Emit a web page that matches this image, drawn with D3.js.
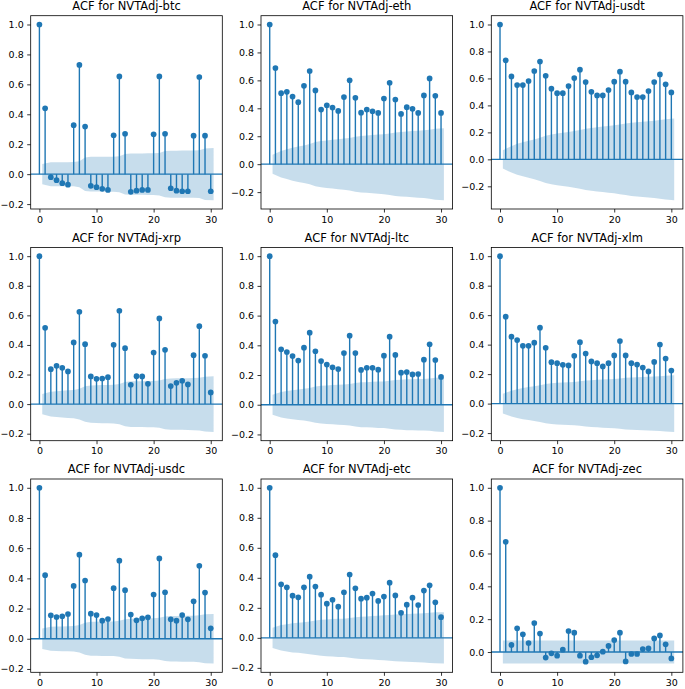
<!DOCTYPE html>
<html><head><meta charset="utf-8">
<script src="https://cdn.jsdelivr.net/npm/d3@7"></script>
<style>
body{margin:0;background:#fff}
svg{display:block}
text{font-family:"DejaVu Sans",sans-serif;fill:#000}
</style>
</head><body>
<svg id="chart" width="685" height="689"></svg>
<script>
// ---- data (lags 0..30; confidence half-widths for lags 1..30) ----
const seriesNames = ["btc","eth","usdt","xrp","ltc","xlm","usdc","etc","zec"];
const titlePrefix = "ACF for NVTAdj-";
const xTickValues = [0,10,20,30];
const yTickStep = 0.2;

const acfBtc = [1.0,0.44,-0.02,-0.04,-0.06,-0.07,0.327,0.73,0.318,-0.078,-0.087,-0.098,-0.105,0.26,0.653,0.27,-0.118,-0.11,-0.105,-0.105,0.266,0.653,0.27,-0.094,-0.11,-0.114,-0.114,0.257,0.649,0.257,-0.114];
const confBtc = [0.068,0.080,0.080,0.080,0.080,0.081,0.087,0.112,0.116,0.116,0.116,0.117,0.117,0.120,0.135,0.138,0.138,0.138,0.139,0.139,0.142,0.155,0.157,0.157,0.158,0.158,0.158,0.160,0.172,0.174];

const acfEth = [1.0,0.688,0.508,0.518,0.484,0.444,0.561,0.667,0.528,0.391,0.422,0.405,0.381,0.48,0.6,0.475,0.369,0.391,0.379,0.367,0.47,0.583,0.463,0.36,0.408,0.396,0.367,0.492,0.614,0.489,0.367];
const confEth = [0.068,0.095,0.107,0.118,0.127,0.134,0.144,0.158,0.166,0.170,0.175,0.179,0.183,0.188,0.197,0.202,0.205,0.209,0.212,0.215,0.220,0.227,0.231,0.234,0.237,0.240,0.243,0.247,0.254,0.258];

const acfUsdt = [1.0,0.734,0.615,0.551,0.551,0.581,0.655,0.725,0.62,0.524,0.491,0.491,0.543,0.603,0.665,0.573,0.501,0.474,0.474,0.514,0.576,0.65,0.576,0.496,0.462,0.462,0.506,0.573,0.63,0.556,0.496];
const confUsdt = [0.068,0.098,0.115,0.126,0.137,0.148,0.161,0.175,0.185,0.192,0.198,0.203,0.210,0.218,0.227,0.233,0.238,0.243,0.247,0.252,0.258,0.265,0.271,0.275,0.279,0.282,0.286,0.292,0.298,0.303];

const acfXrp = [1.0,0.516,0.236,0.259,0.245,0.221,0.417,0.624,0.405,0.187,0.171,0.173,0.182,0.401,0.631,0.378,0.131,0.189,0.187,0.137,0.349,0.579,0.367,0.122,0.144,0.158,0.133,0.331,0.527,0.327,0.079];
const confXrp = [0.068,0.084,0.087,0.091,0.094,0.096,0.104,0.120,0.126,0.128,0.129,0.130,0.131,0.136,0.149,0.154,0.154,0.155,0.156,0.157,0.160,0.170,0.173,0.174,0.174,0.175,0.176,0.178,0.185,0.188];

const acfLtc = [1.0,0.56,0.373,0.355,0.328,0.297,0.384,0.485,0.36,0.294,0.27,0.252,0.24,0.348,0.465,0.348,0.234,0.249,0.249,0.236,0.33,0.458,0.335,0.216,0.22,0.204,0.207,0.303,0.407,0.301,0.187];
const confLtc = [0.067,0.086,0.093,0.098,0.103,0.107,0.113,0.122,0.127,0.130,0.132,0.134,0.136,0.140,0.147,0.151,0.152,0.154,0.156,0.157,0.161,0.166,0.169,0.171,0.172,0.173,0.174,0.176,0.181,0.183];

const acfXlm = [1.0,0.59,0.454,0.431,0.392,0.392,0.413,0.515,0.379,0.281,0.274,0.263,0.259,0.324,0.417,0.34,0.286,0.274,0.252,0.274,0.327,0.424,0.327,0.274,0.265,0.245,0.218,0.283,0.401,0.306,0.224];
const confXlm = [0.067,0.087,0.097,0.106,0.112,0.118,0.124,0.133,0.138,0.141,0.143,0.145,0.147,0.151,0.156,0.159,0.161,0.163,0.165,0.167,0.170,0.175,0.177,0.179,0.181,0.182,0.184,0.186,0.189,0.192];

const acfUsdc = [1.0,0.421,0.155,0.144,0.149,0.164,0.35,0.557,0.386,0.166,0.157,0.12,0.131,0.335,0.517,0.322,0.16,0.122,0.135,0.142,0.293,0.532,0.308,0.129,0.12,0.157,0.129,0.248,0.483,0.306,0.069];
const confUsdc = [0.068,0.079,0.081,0.082,0.083,0.084,0.091,0.106,0.112,0.113,0.114,0.115,0.115,0.120,0.130,0.133,0.134,0.135,0.135,0.136,0.139,0.148,0.151,0.151,0.152,0.153,0.153,0.155,0.162,0.164];

const acfEtc = [1.0,0.551,0.357,0.337,0.281,0.27,0.337,0.408,0.342,0.288,0.228,0.254,0.208,0.304,0.422,0.33,0.261,0.268,0.295,0.246,0.275,0.368,0.283,0.167,0.221,0.268,0.219,0.315,0.35,0.237,0.138];
const confEtc = [0.067,0.085,0.091,0.097,0.100,0.104,0.109,0.115,0.120,0.123,0.125,0.127,0.128,0.132,0.138,0.141,0.143,0.145,0.148,0.150,0.152,0.156,0.158,0.159,0.161,0.163,0.164,0.167,0.170,0.171];

const acfZec = [1.0,0.671,0.043,0.144,0.108,0.055,0.176,0.112,-0.034,-0.008,-0.022,0.014,0.128,0.118,-0.022,-0.059,-0.032,-0.02,0.002,0.037,0.073,0.118,-0.057,-0.012,-0.012,0.018,0.022,0.083,0.101,0.047,-0.039];
const confZec = [0.070,0.070,0.070,0.070,0.070,0.070,0.070,0.070,0.070,0.070,0.070,0.070,0.070,0.070,0.070,0.070,0.070,0.070,0.070,0.070,0.070,0.070,0.070,0.070,0.070,0.070,0.070,0.070,0.070,0.070];

const acfList = [acfBtc,acfEth,acfUsdt,acfXrp,acfLtc,acfXlm,acfUsdc,acfEtc,acfZec];
const confList = [confBtc,confEth,confUsdt,confXrp,confLtc,confXlm,confUsdc,confEtc,confZec];

// ---- layout ----
const colLeft = [30.7, 261.0, 491.3];
const rowTop = [15.7, 247.4, 479.0];
const W = 191.6, H = 193.3;
const C0 = "#1f77b4";
const tickFont = 9.5, titleFont = 11.5;

const svg = d3.select("#chart");

seriesNames.forEach((name, i) => {
  const acf = acfList[i], conf = confList[i];
  const lags = acf.map((_, k) => k);
  const bandPts = conf.map((c, j) => {
    let lx = j + 1;
    if (j === 0) lx -= 0.5;
    if (j === conf.length - 1) lx += 0.5;
    return {x: lx, c: c};
  });

  // matplotlib-like autoscale with 5% margins
  const xMin = 0, xMax = d3.max(bandPts, d => d.x);
  const xPad = 0.05 * (xMax - xMin);
  const yLo = Math.min(d3.min(acf), -d3.max(conf));
  const yHi = Math.max(d3.max(acf), d3.max(conf));
  const yPad = 0.05 * (yHi - yLo);

  const x = d3.scaleLinear().domain([xMin - xPad, xMax + xPad]).range([0, W]);
  const y = d3.scaleLinear().domain([yLo - yPad, yHi + yPad]).range([H, 0]);

  const g = svg.append("g")
    .attr("transform", `translate(${colLeft[i % 3]},${rowTop[Math.floor(i / 3)]})`);

  // confidence band
  g.append("path")
    .datum(bandPts)
    .attr("d", d3.area().x(d => x(d.x)).y0(d => y(-d.c)).y1(d => y(d.c)))
    .attr("fill", C0)
    .attr("fill-opacity", 0.25)
    .attr("stroke", "none");

  // zero line
  g.append("line")
    .attr("x1", 0).attr("x2", W)
    .attr("y1", y(0)).attr("y2", y(0))
    .attr("stroke", C0).attr("stroke-width", 1.4);

  // stems
  g.selectAll("line.stem").data(lags).enter().append("line")
    .attr("class", "stem")
    .attr("x1", k => x(k)).attr("x2", k => x(k))
    .attr("y1", y(0)).attr("y2", k => y(acf[k]))
    .attr("stroke", C0).attr("stroke-width", 1.4);

  // markers
  g.selectAll("circle").data(lags).enter().append("circle")
    .attr("cx", k => x(k)).attr("cy", k => y(acf[k]))
    .attr("r", 2.85).attr("fill", C0);

  // axes
  const yTicks = [];
  const [d0, d1] = y.domain();
  for (let t = Math.ceil(d0 / yTickStep - 1e-9); t * yTickStep <= d1 + 1e-9; t++) yTicks.push(+(t * yTickStep).toFixed(10));

  const ya = g.append("g")
    .call(d3.axisLeft(y).tickValues(yTicks).tickSize(3.5).tickPadding(3.5).tickFormat(d3.format(".1f")));
  const xa = g.append("g").attr("transform", `translate(0,${H})`)
    .call(d3.axisBottom(x).tickValues(xTickValues).tickSize(3.5).tickPadding(3.5).tickFormat(d3.format("d")));
  [ya, xa].forEach(a => {
    a.select(".domain").remove();
    a.selectAll("line").attr("stroke", "#000").attr("stroke-width", 0.8);
    a.selectAll("text").attr("font-size", tickFont).attr("font-family", "DejaVu Sans").attr("fill", "#000");
  });

  // frame
  g.append("rect")
    .attr("x", 0).attr("y", 0).attr("width", W).attr("height", H)
    .attr("fill", "none").attr("stroke", "#000").attr("stroke-width", 0.8);

  // title
  g.append("text")
    .attr("x", W / 2).attr("y", -5.7)
    .attr("text-anchor", "middle")
    .attr("font-size", titleFont)
    .text(titlePrefix + name);
});
</script>
</body></html>
